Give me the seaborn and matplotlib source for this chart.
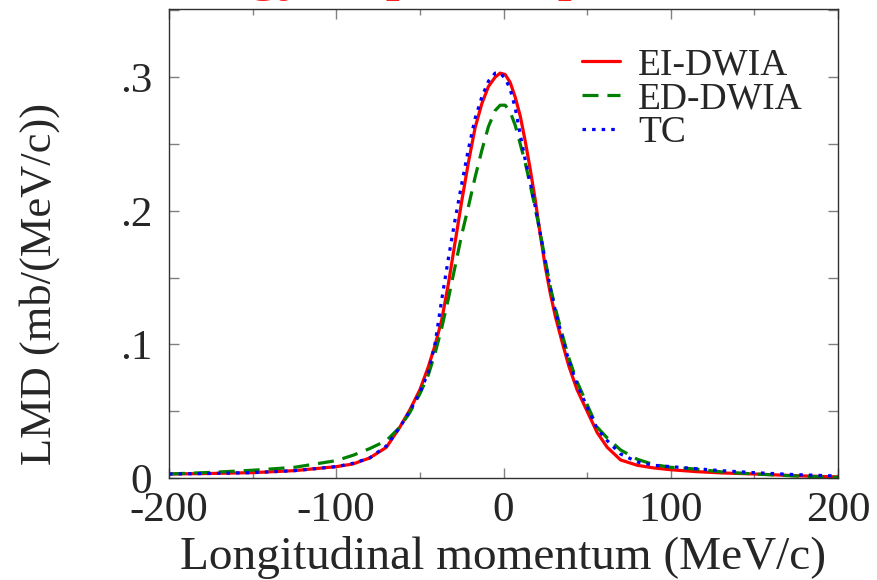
import numpy as np
import pandas as pd
import matplotlib
matplotlib.use("Agg")
import matplotlib.pyplot as plt
import seaborn as sns
from matplotlib.ticker import FixedLocator, MultipleLocator

# Longitudinal momentum grid (MeV/c)
momentum = [-200, -175, -150, -125, -100, -90, -80, -70, -62, -56, -50, -45,
            -41, -37, -33, -29, -25, -21, -17, -13, -9, -5, -2, 1, 4, 7, 10,
            13, 16, 19, 22, 25, 28, 31, 35, 39, 44, 50, 56, 62, 70, 80, 90,
            100, 115, 130, 150, 175, 200]

# Longitudinal momentum distributions, mb/(MeV/c)
lmd_ei_dwia = [0.0030, 0.0034, 0.0040, 0.0055, 0.0085, 0.0105, 0.0150, 0.0230,
               0.0380, 0.0510, 0.0660, 0.0830, 0.0990, 0.1180, 0.1450, 0.1760,
               0.2070, 0.2360, 0.2620, 0.2800, 0.2930, 0.3000, 0.3030, 0.3020,
               0.2960, 0.2850, 0.2710, 0.2520, 0.2310, 0.2080, 0.1820, 0.1580,
               0.1380, 0.1210, 0.1020, 0.0840, 0.0660, 0.0500, 0.0340, 0.0230,
               0.0135, 0.0095, 0.0075, 0.0062, 0.0048, 0.0038, 0.0030, 0.0017,
               0.0008]
lmd_ed_dwia = [0.0030, 0.0042, 0.0058, 0.0080, 0.0130, 0.0170, 0.0220, 0.0280,
               0.0380, 0.0490, 0.0630, 0.0770, 0.0930, 0.1120, 0.1340, 0.1580,
               0.1820, 0.2030, 0.2250, 0.2450, 0.2630, 0.2750, 0.2790, 0.2790,
               0.2740, 0.2640, 0.2500, 0.2360, 0.2190, 0.2020, 0.1830, 0.1630,
               0.1430, 0.1270, 0.1080, 0.0900, 0.0720, 0.0550, 0.0380, 0.0300,
               0.0210, 0.0140, 0.0100, 0.0080, 0.0067, 0.0046, 0.0030, 0.0015,
               0.0005]
lmd_tc = [0.0030, 0.0034, 0.0040, 0.0055, 0.0085, 0.0110, 0.0150, 0.0240,
          0.0380, 0.0500, 0.0640, 0.0790, 0.1000, 0.1330, 0.1640, 0.1930,
          0.2200, 0.2460, 0.2690, 0.2850, 0.2970, 0.3030, 0.3030, 0.2990,
          0.2910, 0.2770, 0.2570, 0.2380, 0.2210, 0.2030, 0.1830, 0.1620,
          0.1420, 0.1250, 0.1060, 0.0880, 0.0700, 0.0530, 0.0370, 0.0280,
          0.0180, 0.0120, 0.0095, 0.0085, 0.0070, 0.0055, 0.0040, 0.0025,
          0.0015]

series_names = ["EI-DWIA", "ED-DWIA", "TC"]
x_ticks = [-200, -100, 0, 100, 200]
x_tick_labels = ["-200", "-100", "0", "100", "200"]
y_ticks = [0.0, 0.1, 0.2, 0.3]
y_tick_labels = ["0", ".1", ".2", ".3"]
title_text = "Energy of proton-proton"

df = pd.DataFrame({
    "p": momentum * 3,
    "lmd": lmd_ei_dwia + lmd_ed_dwia + lmd_tc,
    "model": sum([[n] * len(momentum) for n in series_names], []),
})

sns.set_style("ticks")
plt.rcParams["font.family"] = ["Liberation Serif", "DejaVu Serif"]

W, H = 877, 580
fig = plt.figure(figsize=(W / 100, H / 100), dpi=100)
ax = fig.add_axes([169 / W, 1 - 478 / H, (838 - 169) / W, (478 - 9) / H])

styles = {
    "EI-DWIA": dict(color="#ff0000", linestyle="-"),
    "ED-DWIA": dict(color="#008000", linestyle=(0, (5.0, 2.8))),
    "TC": dict(color="#0000ff", linestyle=(0, (1.1, 1.9))),
}
for name in series_names:
    sub = df[df["model"] == name]
    sns.lineplot(data=sub, x="p", y="lmd", ax=ax, estimator=None, sort=True,
                 linewidth=2.3, label=name, **styles[name])

ax.set_xlim(-200, 200)
ax.set_ylim(0, 0.351)
ax.xaxis.set_major_locator(FixedLocator(x_ticks))
ax.set_xticklabels(x_tick_labels)
ax.xaxis.set_minor_locator(MultipleLocator(50))
ax.yaxis.set_major_locator(FixedLocator(y_ticks))
ax.set_yticklabels(y_tick_labels)
ax.yaxis.set_minor_locator(MultipleLocator(0.05))

ax.tick_params(which="both", direction="in", top=True, right=True,
               color="#808080", width=1.0, labelsize=31)
ax.tick_params(axis="x", which="major", length=7.5, pad=10)
ax.tick_params(axis="x", which="minor", length=4)
ax.tick_params(axis="y", which="both", length=7.5, pad=12)
for sp in ax.spines.values():
    sp.set_linewidth(1.0)
    sp.set_color("#303030")

ax.set_xlabel("Longitudinal momentum (MeV/c)", fontsize=34, labelpad=4)
ax.set_ylabel("LMD (mb/(MeV/c))", fontsize=32)
ax.yaxis.set_label_coords(-0.163, 0.414)

leg = ax.legend(loc="upper left", bbox_to_anchor=(582 / W, 1 - 48 / H),
                bbox_transform=fig.transFigure, frameon=False, fontsize=27,
                handlelength=1.0, handletextpad=0.5, labelspacing=-0.02,
                borderpad=0, borderaxespad=0)

fig.text(140 / W, 1 + 11 / H, title_text, color="#ff2020", fontsize=42,
         ha="left", va="baseline")

fig.savefig("out.png", dpi=100)
